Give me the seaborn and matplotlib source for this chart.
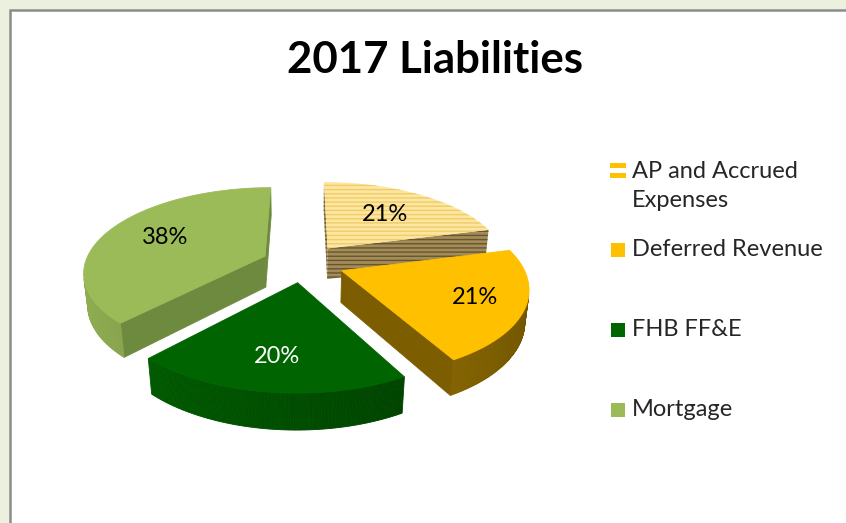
import numpy as np
import matplotlib
matplotlib.use("Agg")
import matplotlib.pyplot as plt
from matplotlib.patches import Polygon, Rectangle
import seaborn as sns

# data
categories = ["AP and Accrued\nExpenses", "Deferred Revenue", "FHB FF&E", "Mortgage"]
shares = [21, 21, 20, 38]
top_colors = ["#FDE6A0", "#FFC000", "#006400", "#9BBB59"]
wall_colors = ["#A38C58", "#AE8300", "#005A00", "#8AA64E"]
cut_colors = ["#A38C58", "#7C5D00", "#004000", "#6E8A3F"]
hatch_colors = ["#EFCB6A", None, None, None]
side_hatch = ["#66552E", None, None, None]
label_colors = ["black", "black", "white", "black"]
legend_colors = ["#FFC000", "#FFC000", "#006400", "#9BBB59"]
label_r = [0.6, 0.74, 0.72, 0.64]

sns.set_theme(style="white")
plt.rcParams["font.family"] = ["Lato", "DejaVu Sans"]
plt.rcParams["hatch.linewidth"] = 1.0

fig = plt.figure(figsize=(8.46, 5.23), dpi=100, facecolor="#EBF1DE")
ax = fig.add_axes([0, 0, 1, 1])
ax.set_xlim(0, 846)
ax.set_ylim(523, 0)
ax.axis("off")

# chart area frame
ax.add_patch(Rectangle((9.5, 9.5), 900, 600, facecolor="white",
                       edgecolor="#8C8C8C", lw=1.8, zorder=0))

ax.text(435, 73, "2017 Liabilities", ha="center", va="baseline",
        fontsize=31.5, fontweight="bold", color="black")

# simple perspective projection of a tilted pie
cx, cy = 303, 263
F, D = 900, 5.0
alpha = np.radians(27.4)
explode = 0.23
depth = 0.2


def project(p):
    X, Y, Z = p
    yc = Y * np.sin(alpha) + Z * np.cos(alpha)
    zc = Y * np.cos(alpha) - Z * np.sin(alpha) + D
    return (cx + F * X / zc, cy - F * yc / zc)


def area(pts):
    xs = np.array([q[0] for q in pts])
    ys = -np.array([q[1] for q in pts])
    return 0.5 * np.sum(xs * np.roll(ys, -1) - np.roll(xs, -1) * ys)


def face(pts3d, color, hatch_col=None, z=1):
    pts = [project(p) for p in pts3d]
    if hatch_col:
        poly = Polygon(pts, closed=True, facecolor=color, edgecolor=hatch_col,
                       hatch="----", lw=0, zorder=z)
    else:
        poly = Polygon(pts, closed=True, facecolor=color, edgecolor=color,
                       lw=0.6, zorder=z)
    ax.add_patch(poly)


frac = np.array(shares) / sum(shares)
bounds = np.concatenate([[0], np.cumsum(frac)]) * 2 * np.pi
slices = []
for i in range(len(shares)):
    t1, t2 = bounds[i], bounds[i + 1]
    m = (t1 + t2) / 2
    ox, oy = explode * np.sin(m), explode * np.cos(m)
    slices.append((i, t1, t2, m, ox, oy))

# back to front
slices.sort(key=lambda s: -s[5])

for i, t1, t2, m, ox, oy in slices:
    arc = np.linspace(t1, t2, 120)
    T = lambda t: (ox + np.sin(t), oy + np.cos(t), 0.0)
    B = lambda t: (ox + np.sin(t), oy + np.cos(t), -depth)
    apT, apB = (ox, oy, 0.0), (ox, oy, -depth)
    sides = []
    sides.append(([apT, T(t1), B(t1), apB], cut_colors[i]))
    sides.append(([apT, apB, B(t2), T(t2)], cut_colors[i]))
    base = np.array(matplotlib.colors.to_rgb(wall_colors[i]))
    for a, b in zip(arc[:-1], arc[1:]):
        shade = 0.85 - 0.2 * np.sin((a + b) / 2)
        sides.append(([T(a), T(b), B(b), B(a)], np.clip(base * shade, 0, 1)))
    for pts3d, col in sides:
        if area([project(p) for p in pts3d]) > 0:
            face(pts3d, col, side_hatch[i])
    top = [apT] + [T(t) for t in arc]
    face(top, top_colors[i], hatch_colors[i])
    r = label_r[i]
    lx, ly = project((ox + r * np.sin(m), oy + r * np.cos(m), 0.0))
    ax.text(lx, ly, f"{shares[i]}%", ha="center", va="center",
            fontsize=17, color=label_colors[i], zorder=5)

# legend
legend_y = [186, 250, 330, 410]
for lab, col, y in zip(categories, legend_colors, legend_y):
    if "\n" in lab:
        ax.add_patch(Rectangle((610, y - 23), 16, 5, facecolor=col, lw=0))
        ax.add_patch(Rectangle((610, y - 13), 16, 5, facecolor=col, lw=0))
        ax.text(632, y, lab, ha="left", va="center", fontsize=17,
                linespacing=1.45)
    else:
        ax.add_patch(Rectangle((611, y - 7), 14, 14, facecolor=col, lw=0))
        ax.text(632, y, lab, ha="left", va="center", fontsize=17)

fig.savefig("out.png", dpi=100, facecolor=fig.get_facecolor())
